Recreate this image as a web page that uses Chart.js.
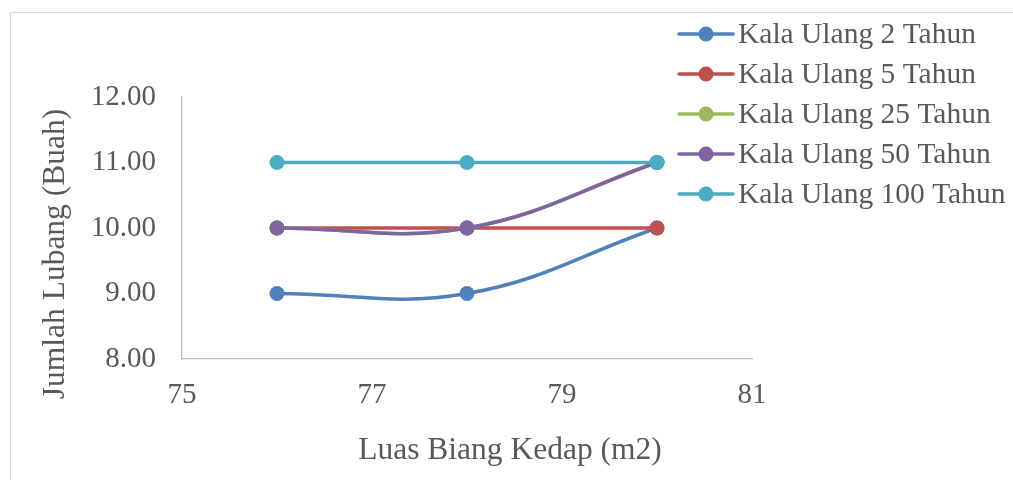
<!DOCTYPE html>
<html>
<head>
<meta charset="utf-8">
<script src="https://cdn.jsdelivr.net/npm/chart.js@4/dist/chart.umd.min.js"></script>
<style>
  html, body { margin: 0; padding: 0; background: #ffffff; }
  #wrap { width: 1013px; height: 480px; }
</style>
</head>
<body>
<div id="wrap"><canvas id="c" width="1013" height="480"></canvas></div>
<script>
// Luas bidang kedap (m2) on the x axis
const luasKedap = [76, 78, 80];

// Jumlah lubang (buah) for each return period
const kalaUlang2   = [9, 9, 10];
const kalaUlang5   = [10, 10, 10];
const kalaUlang25  = [10, 10, 11];
const kalaUlang50  = [10, 10, 11];
const kalaUlang100 = [11, 11, 11];

const seriesNames = [
  'Kala Ulang 2 Tahun',
  'Kala Ulang 5 Tahun',
  'Kala Ulang 25 Tahun',
  'Kala Ulang 50 Tahun',
  'Kala Ulang 100 Tahun'
];
const seriesValues = [kalaUlang2, kalaUlang5, kalaUlang25, kalaUlang50, kalaUlang100];
const seriesColors = ['#4F81BD', '#C0504D', '#9BBB59', '#8064A2', '#4BACC6'];

const xTitle = 'Luas Biang Kedap (m2)';
const yTitle = 'Jumlah Lubang (Buah)';

const FONT = '"Liberation Serif", "Times New Roman", serif';
const TEXT = '#595959';
const AXIS = '#BFBFBF';

const datasets = seriesValues.map((vals, i) => ({
  label: seriesNames[i],
  data: vals.map((v, j) => ({ x: luasKedap[j], y: v })),
  borderColor: seriesColors[i],
  backgroundColor: seriesColors[i],
  pointBackgroundColor: seriesColors[i],
  pointBorderColor: seriesColors[i],
  pointRadius: 7.5,
  pointBorderWidth: 0,
  borderWidth: 3.5,
  tension: 0.4,
  fill: false,
  clip: false,
  // later series are painted over earlier ones
  order: seriesValues.length - 1 - i
}));

// white background and light frame around the chart
const framePlugin = {
  id: 'frame',
  beforeDraw(chart) {
    const ctx = chart.ctx;
    ctx.save();
    ctx.fillStyle = '#ffffff';
    ctx.fillRect(0, 0, chart.width, chart.height);
    ctx.strokeStyle = '#D9D9D9';
    ctx.lineWidth = 1.2;
    ctx.strokeRect(10.5, 12.5, chart.width + 20, chart.height + 20);
    ctx.restore();
  }
};

// axis titles
const titlesPlugin = {
  id: 'axisTitles',
  afterDraw(chart, args, opts) {
    const ctx = chart.ctx;
    ctx.save();
    ctx.fillStyle = TEXT;
    ctx.font = opts.size + 'px ' + FONT;
    ctx.textAlign = 'center';
    ctx.textBaseline = 'middle';
    ctx.fillText(xTitle, opts.xTitleX, opts.xTitleY);
    ctx.translate(opts.yTitleX, opts.yTitleY);
    ctx.rotate(-Math.PI / 2);
    ctx.fillText(yTitle, 0, 0);
    ctx.restore();
  }
};

// legend list drawn at the upper right
const legendPlugin = {
  id: 'sideLegend',
  afterDraw(chart, args, opts) {
    const ctx = chart.ctx;
    ctx.save();
    ctx.font = opts.size + 'px ' + FONT;
    ctx.textAlign = 'left';
    ctx.textBaseline = 'middle';
    chart.data.datasets.forEach((ds, i) => {
      const y = opts.top + i * opts.step;
      ctx.strokeStyle = ds.borderColor;
      ctx.lineWidth = 3.5;
      ctx.lineCap = 'round';
      ctx.beginPath();
      ctx.moveTo(opts.left, y);
      ctx.lineTo(opts.left + opts.lineLen, y);
      ctx.stroke();
      ctx.fillStyle = ds.borderColor;
      ctx.beginPath();
      ctx.arc(opts.left + opts.lineLen / 2, y, 7.5, 0, Math.PI * 2);
      ctx.fill();
      ctx.fillStyle = TEXT;
      ctx.fillText(ds.label, opts.left + opts.lineLen + 5, y + 1);
    });
    ctx.restore();
  }
};

new Chart(document.getElementById('c'), {
  type: 'line',
  data: { datasets },
  plugins: [framePlugin, titlesPlugin, legendPlugin],
  options: {
    responsive: false,
    animation: false,
    events: [],
    layout: { padding: { left: 0, top: 97, right: 261, bottom: 0 } },
    plugins: {
      legend: { display: false },
      tooltip: { enabled: false },
      axisTitles: { size: 31.5, xTitleX: 510, xTitleY: 451, yTitleX: 56, yTitleY: 254 },
      sideLegend: { size: 29.5, left: 679, lineLen: 54, top: 34, step: 40 }
    },
    scales: {
      x: {
        type: 'linear',
        min: 75,
        max: 81,
        grid: { display: false, drawTicks: false },
        border: { display: true, color: AXIS, width: 1.3 },
        ticks: {
          stepSize: 2,
          padding: 19,
          color: TEXT,
          font: { family: FONT, size: 29 },
          maxRotation: 0
        },
        afterFit(scale) {
          scale.height = 121;
          scale.paddingLeft = 0;
          scale.paddingRight = 0;
        }
      },
      y: {
        type: 'linear',
        min: 8,
        max: 12,
        grid: { display: false, drawTicks: false },
        border: { display: true, color: AXIS, width: 1.3 },
        ticks: {
          stepSize: 1,
          padding: 26,
          color: TEXT,
          font: { family: FONT, size: 29 },
          callback: v => Number(v).toFixed(2)
        },
        afterFit(scale) {
          scale.width = 182;
          scale.paddingTop = 0;
          scale.paddingBottom = 0;
        }
      }
    }
  }
});
</script>
</body>
</html>
